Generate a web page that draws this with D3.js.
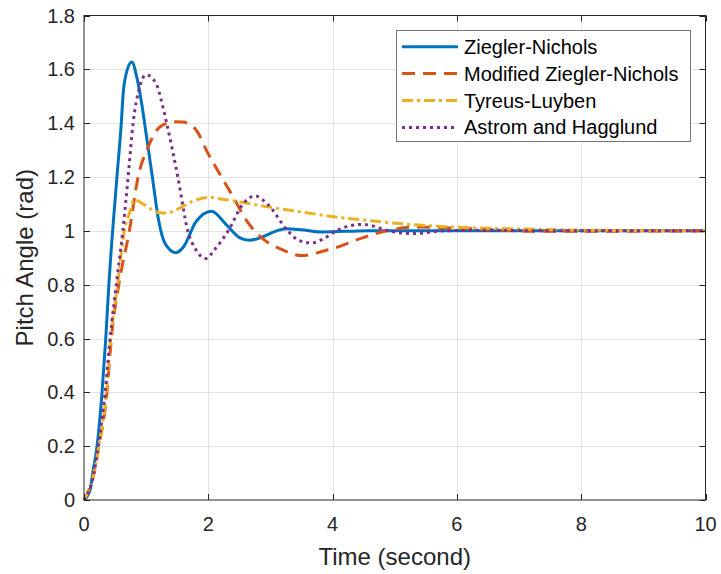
<!doctype html>
<html lang="en">
<head>
  <meta charset="utf-8">
  <title>Pitch Angle step response</title>
  <style>
    body { margin: 0; background: #fff; }
    svg { display: block; font-family: "Liberation Sans", Arial, sans-serif; }
    .grid line { stroke: #e3e3e3; stroke-width: 1; }
    .tick-label { fill: #262626; font-size: 20px; }
    .axis-label { fill: #262626; font-size: 24px; }
    .legend text { fill: #000; font-size: 20px; }
  </style>
</head>
<body>
  <div id="chart"></div>
  <script src="https://d3js.org/d3.v7.min.js"></script>
  <script>
    // series (time in s, angle in rad)
    const znTime = [0, 0.1, 0.14, 0.21, 0.29, 0.35, 0.4, 0.53, 0.6, 0.63, 0.68, 0.77, 0.85, 0.93, 1.0, 1.1, 1.2, 1.3, 1.48, 1.6, 1.8, 2.05, 2.3, 2.5, 2.67, 2.9, 3.1, 3.25, 3.5, 3.8, 4.2, 4.6, 5, 6, 8, 10];
    const znAngle = [0, 0.04, 0.1, 0.2, 0.4, 0.6, 0.8, 1.2, 1.4, 1.51, 1.585, 1.627, 1.57, 1.47, 1.36, 1.2, 1.04, 0.955, 0.919, 0.94, 1.033, 1.073, 1.02, 0.975, 0.965, 0.98, 1.0, 1.008, 1.004, 0.996, 0.998, 1.0, 1.0, 1.0, 1.0, 1.0];

    const mznTime = [0, 0.16, 0.24, 0.37, 0.44, 0.56, 0.73, 0.87, 1.03, 1.22, 1.45, 1.59, 1.81, 1.97, 2.18, 2.4, 2.61, 2.88, 3.15, 3.5, 3.9, 4.0, 4.44, 4.87, 5.3, 6.2, 7.0, 7.7, 9, 10];
    const mznAngle = [0, 0.1, 0.2, 0.4, 0.6, 0.8, 1.0, 1.2, 1.31, 1.386, 1.405, 1.404, 1.373, 1.299, 1.213, 1.126, 1.04, 0.97, 0.934, 0.908, 0.928, 0.934, 0.971, 1.0, 1.014, 1.008, 1.0, 0.998, 0.999, 1.0];

    const tlTime = [0, 0.16, 0.24, 0.36, 0.43, 0.54, 0.65, 0.73, 0.81, 0.95, 1.06, 1.2, 1.33, 1.5, 1.75, 1.99, 2.3, 2.93, 3.5, 4.0, 4.5, 5.08, 5.6, 6.15, 7.23, 8.3, 10];
    const tlAngle = [0, 0.1, 0.2, 0.4, 0.6, 0.8, 1.0, 1.065, 1.115, 1.1, 1.083, 1.068, 1.065, 1.08, 1.11, 1.124, 1.115, 1.09, 1.07, 1.053, 1.04, 1.027, 1.018, 1.012, 1.006, 1.002, 1.0];

    const ahTime = [0, 0.16, 0.23, 0.34, 0.42, 0.52, 0.625, 0.71, 0.79, 0.89, 1.0, 1.16, 1.27, 1.33, 1.51, 1.67, 1.8, 1.96, 2.1, 2.32, 2.56, 2.75, 2.95, 3.28, 3.45, 3.66, 3.85, 4.06, 4.3, 4.49, 4.7, 4.9, 5.29, 5.8, 6.5, 7.5, 10];
    const ahAngle = [0, 0.1, 0.2, 0.4, 0.6, 0.8, 1.0, 1.2, 1.4, 1.53, 1.58, 1.547, 1.46, 1.4, 1.2, 1.0, 0.93, 0.897, 0.93, 1.0, 1.1, 1.13, 1.1, 1.0, 0.965, 0.955, 0.97, 1.0, 1.02, 1.024, 1.015, 1.0, 0.99, 1.0, 1.002, 1.0, 1.0];

    const seriesNames = ['Ziegler-Nichols', 'Modified Ziegler-Nichols', 'Tyreus-Luyben', 'Astrom and Hagglund'];
    const xTicks = [0, 2, 4, 6, 8, 10];
    const yTicks = [0, 0.2, 0.4, 0.6, 0.8, 1, 1.2, 1.4, 1.6, 1.8];

    const width = 721, height = 574;
    const margin = { top: 15.5, right: 15.5, bottom: 74, left: 84 };

    const svg = d3.select('#chart').append('svg')
      .attr('width', width)
      .attr('height', height);

    const x = d3.scaleLinear().domain([0, 10]).range([margin.left, width - margin.right]);
    const y = d3.scaleLinear().domain([0, 1.8]).range([height - margin.bottom, margin.top]);

    // grid
    const grid = svg.append('g').attr('class', 'grid');
    grid.selectAll('.gx').data(xTicks.slice(1, -1)).join('line')
      .attr('x1', d => Math.round(x(d)) + 0.5).attr('x2', d => Math.round(x(d)) + 0.5)
      .attr('y1', y(1.8)).attr('y2', y(0));
    grid.selectAll('.gy').data(yTicks.slice(1, -1)).join('line')
      .attr('class', 'gy')
      .attr('y1', d => Math.round(y(d)) + 0.5).attr('y2', d => Math.round(y(d)) + 0.5)
      .attr('x1', x(0)).attr('x2', x(10));

    // lines
    const styles = [
      { color: '#0072BD', dash: null },
      { color: '#D95319', dash: '13,8' },
      { color: '#EDB120', dash: '11,4,3,4' },
      { color: '#7E2F8E', dash: '3,4' }
    ];
    const series = [
      d3.zip(znTime, znAngle),
      d3.zip(mznTime, mznAngle),
      d3.zip(tlTime, tlAngle),
      d3.zip(ahTime, ahAngle)
    ];

    const line = d3.line()
      .x(d => x(d[0]))
      .y(d => y(d[1]))
      .curve(d3.curveMonotoneX);

    const plot = svg.append('g');
    series.forEach((s, i) => {
      plot.append('path')
        .datum(s)
        .attr('d', line)
        .attr('fill', 'none')
        .attr('stroke', styles[i].color)
        .attr('stroke-width', 3)
        .attr('stroke-dasharray', styles[i].dash)
        .attr('stroke-linejoin', 'round');
    });

    // axes box with inward ticks on all sides
    const axes = svg.append('g').attr('stroke', '#262626').attr('stroke-width', 1);
    axes.append('rect')
      .attr('x', x(0)).attr('y', y(1.8))
      .attr('width', x(10) - x(0)).attr('height', y(0) - y(1.8))
      .attr('fill', 'none');
    const tl = 6;
    xTicks.forEach(t => {
      const px = Math.round(x(t)) + 0.5;
      axes.append('line').attr('x1', px).attr('x2', px).attr('y1', y(0)).attr('y2', y(0) - tl);
      axes.append('line').attr('x1', px).attr('x2', px).attr('y1', y(1.8)).attr('y2', y(1.8) + tl);
    });
    yTicks.forEach(t => {
      const py = Math.round(y(t)) + 0.5;
      axes.append('line').attr('y1', py).attr('y2', py).attr('x1', x(0)).attr('x2', x(0) + tl);
      axes.append('line').attr('y1', py).attr('y2', py).attr('x1', x(10)).attr('x2', x(10) - tl);
    });

    // tick labels
    svg.append('g').selectAll('text').data(xTicks).join('text')
      .attr('class', 'tick-label')
      .attr('x', d => x(d))
      .attr('y', 531)
      .attr('text-anchor', 'middle')
      .text(d => d);
    svg.append('g').selectAll('text').data(yTicks).join('text')
      .attr('class', 'tick-label')
      .attr('x', 75)
      .attr('y', d => y(d) + 7)
      .attr('text-anchor', 'end')
      .text(d3.format('~g'));

    // axis labels
    svg.append('text')
      .attr('class', 'axis-label')
      .attr('x', (x(0) + x(10)) / 2)
      .attr('y', 565)
      .attr('text-anchor', 'middle')
      .text('Time (second)');
    svg.append('text')
      .attr('class', 'axis-label')
      .attr('transform', `translate(33,${(y(0) + y(1.8)) / 2}) rotate(-90)`)
      .attr('text-anchor', 'middle')
      .text('Pitch Angle (rad)');

    // legend
    const legend = svg.append('g').attr('class', 'legend');
    legend.append('rect')
      .attr('x', 396.5).attr('y', 30.5)
      .attr('width', 294).attr('height', 111)
      .attr('fill', '#fff')
      .attr('stroke', '#777')
      .attr('stroke-width', 1);
    const rows = legend.selectAll('g.row').data(seriesNames).join('g')
      .attr('class', 'row')
      .attr('transform', (d, i) => `translate(0,${46.7 + i * 26.9})`);
    rows.append('line')
      .attr('x1', 402).attr('x2', 458)
      .attr('stroke', (d, i) => styles[i].color)
      .attr('stroke-width', 3)
      .attr('stroke-dasharray', (d, i) => styles[i].dash);
    rows.append('text')
      .attr('x', 464)
      .attr('y', 7)
      .text(d => d);
  </script>
</body>
</html>
